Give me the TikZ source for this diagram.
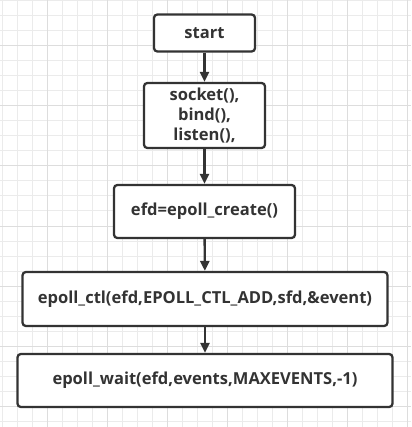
\documentclass[tikz,border=0pt]{standalone}
\usepackage{fontspec}
\setmainfont{Open Sans}
\usetikzlibrary{arrows.meta}
\definecolor{edgecol}{HTML}{333333}
\definecolor{minorgrid}{HTML}{EBEBEB}
\definecolor{majorgrid}{HTML}{DDDDDD}
\tikzset{
  box/.style={draw=edgecol, line width=1.7pt, rounded corners=2.5pt, fill=white,
    font=\bfseries\fontsize{12.4}{15}\selectfont, text=edgecol, align=center, inner sep=0pt},
  flow/.style={draw=edgecol, line width=1.8pt, -{Triangle[length=7.5pt,width=6.8pt]}}
}
\begin{document}
\begin{tikzpicture}[x=0.75pt,y=-0.75pt]
\useasboundingbox (0,0) rectangle (411,427);
\fill[white] (0,0) rectangle (411,427);
\foreach \x in {2.3,17.3,...,411} \draw[minorgrid, line width=0.75pt] (\x,0) -- (\x,427);
\foreach \y in {1,16,...,427} \draw[minorgrid, line width=0.75pt] (0,\y) -- (411,\y);
\foreach \x in {47.3,107.3,...,411} \draw[majorgrid, line width=0.75pt] (\x,0) -- (\x,427);
\foreach \y in {46,106,...,427} \draw[majorgrid, line width=0.75pt] (0,\y) -- (411,\y);

\node[box, minimum width=101*0.75pt, minimum height=37*0.75pt] (start) at (204.5,33) {start};
\node[box, minimum width=121*0.75pt, minimum height=65*0.75pt] (sock) at (204.5,115.5) {socket(),\\bind(),\\listen(),};
\node[box, minimum width=181*0.75pt, minimum height=53*0.75pt] (efd) at (204.5,211.5) {efd=epoll\_create()};
\node[box, minimum width=365*0.75pt, minimum height=54*0.75pt] (ctl) at (205,299) {epoll\_ctl(efd,EPOLL\_CTL\_ADD,sfd,\&event)};
\node[box, minimum width=375*0.75pt, minimum height=53*0.75pt] (wait) at (205,380.5) {epoll\_wait(efd,events,MAXEVENTS,-1)};

\draw[flow] (start) -- (sock);
\draw[flow] (sock) -- (efd);
\draw[flow] (efd) -- (ctl);
\draw[flow] (ctl) -- (wait);
\end{tikzpicture}
\end{document}
